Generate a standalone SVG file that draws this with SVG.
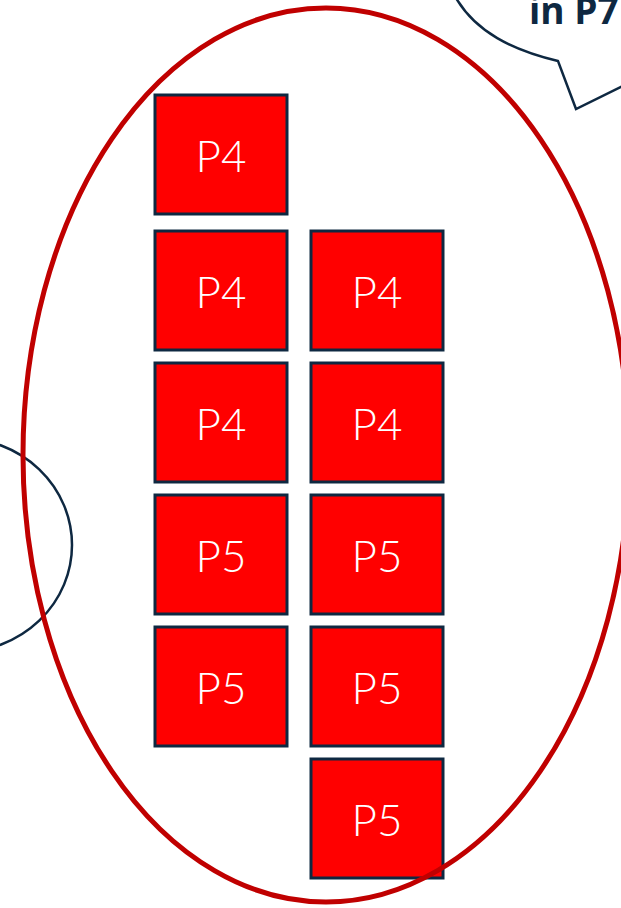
<svg xmlns="http://www.w3.org/2000/svg" width="621" height="908" viewBox="0 0 621 908">
<style>
.box rect{fill:#FF0000;stroke:#0E2841;stroke-width:3}
.box text{fill:#FFFFFF;font-family:Lato,"Open Sans","Liberation Sans",sans-serif;font-weight:300;font-size:44px;text-anchor:middle}
</style>
<rect width="621" height="908" fill="#FFFFFF"/>
<g id="callout">
<path d="M 456,-2 C 476,32 512,50 558,61 L 576,109 L 623,86" fill="none" stroke="#0E2841" stroke-width="2.5"/>
<text x="529" y="24" font-family="'Open Sans','Liberation Sans',sans-serif" font-weight="bold" font-size="37" fill="#0E2841">in P7</text>
</g>
<g id="left-ellipse">
<ellipse cx="-40" cy="545" rx="112" ry="107" fill="none" stroke="#0E2841" stroke-width="2.5"/>
</g>
<g id="b1" class="box"><rect x="155" y="95" width="132" height="119"/><text x="221" y="172">P4</text></g>
<g id="b2" class="box"><rect x="155" y="231" width="132" height="119"/><text x="221" y="308">P4</text></g>
<g id="b3" class="box"><rect x="155" y="363" width="132" height="119"/><text x="221" y="440">P4</text></g>
<g id="b4" class="box"><rect x="155" y="495" width="132" height="119"/><text x="221" y="572">P5</text></g>
<g id="b5" class="box"><rect x="155" y="627" width="132" height="119"/><text x="221" y="704">P5</text></g>
<g id="c1" class="box"><rect x="311" y="231" width="132" height="119"/><text x="377" y="308">P4</text></g>
<g id="c2" class="box"><rect x="311" y="363" width="132" height="119"/><text x="377" y="440">P4</text></g>
<g id="c3" class="box"><rect x="311" y="495" width="132" height="119"/><text x="377" y="572">P5</text></g>
<g id="c4" class="box"><rect x="311" y="627" width="132" height="119"/><text x="377" y="704">P5</text></g>
<g id="c5" class="box"><rect x="311" y="759" width="132" height="119"/><text x="377" y="836">P5</text></g>
<g id="group-ellipse">
<ellipse cx="326" cy="455" rx="303" ry="447" fill="none" stroke="#C00000" stroke-width="5"/>
</g>
</svg>
